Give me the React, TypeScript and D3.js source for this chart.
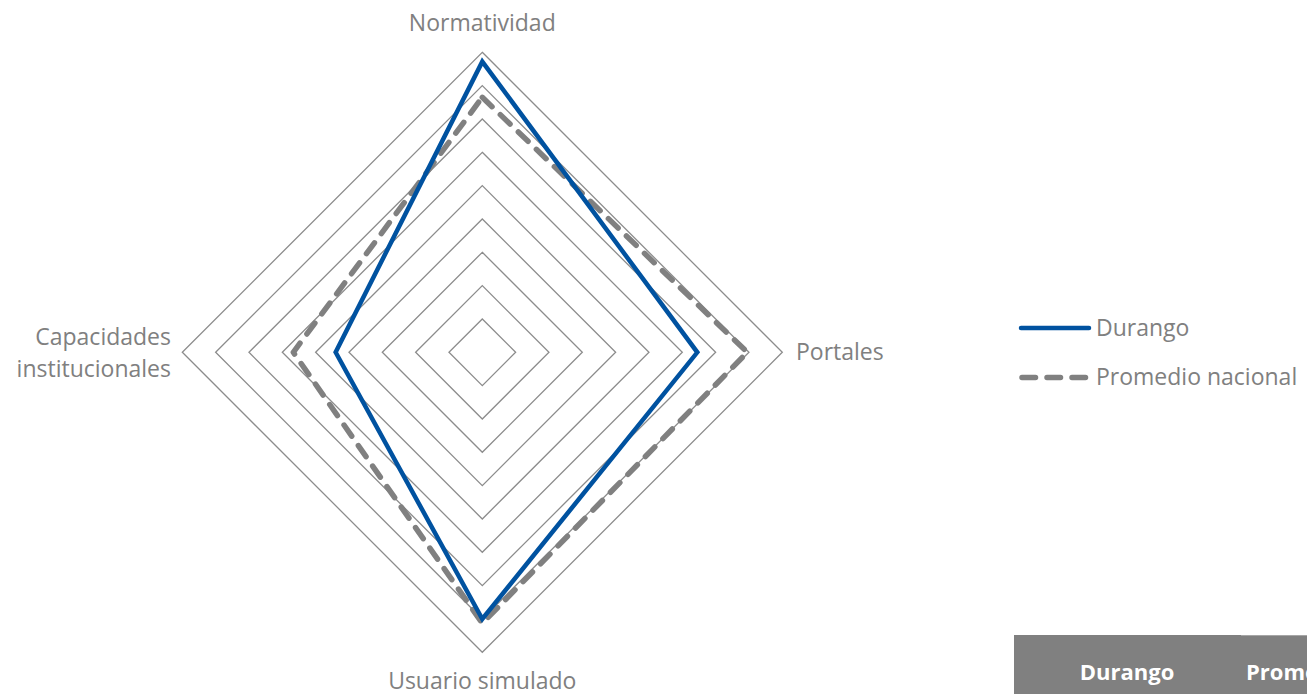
import React from 'react';
import * as d3 from 'd3';

const axes = ['Normatividad', 'Portales', 'Usuario simulado', 'Capacidades institucionales'];
const durango = [8.72, 6.45, 8.0, 4.4];
const promedio = [7.65, 7.95, 8.13, 5.67];
const rings = [1, 2, 3, 4, 5, 6, 7, 8, 9];
const seriesNames = ['Durango', 'Promedio nacional'];
const tableHeader = ['Durango', 'Promedio nacional'];

const FONT = "'Segoe UI', 'Open Sans', 'Noto Sans', sans-serif";

export default function App() {
  const width = 1307;
  const height = 694;
  const cx = 482.3;
  const cy = 352.3;
  const r = d3.scaleLinear().domain([0, 9]).range([0, 300]);
  const angle = (i: number) => (i * 2 * Math.PI) / axes.length;

  const pt = (v: number, i: number): [number, number] => [
    cx + r(v) * Math.sin(angle(i)),
    cy - r(v) * Math.cos(angle(i)),
  ];
  const poly = d3.line<[number, number]>().curve(d3.curveLinearClosed);

  const gray = '#808080';
  const dash = '13.5 11.5';

  return (
    <svg width={width} height={height} style={{ position: 'absolute', left: 0, top: 0 }}>
      <rect width={width} height={height} fill="#fff" />
      <g>
        {rings.map((k) => (
          <path
            key={k}
            d={poly(axes.map((_, i) => pt(k, i))) || ''}
            fill="none"
            stroke="#8c8c8c"
            strokeWidth={1.3}
          />
        ))}
      </g>
      <path
        d={poly(promedio.map((v, i) => pt(v, i))) || ''}
        fill="none"
        stroke={gray}
        strokeWidth={5.5}
        strokeDasharray={dash}
        strokeLinecap="round"
        strokeLinejoin="round"
      />
      <path
        d={poly(durango.map((v, i) => pt(v, i))) || ''}
        fill="none"
        stroke="#0052a0"
        strokeWidth={4.5}
        strokeLinejoin="miter"
      />
      <g fontFamily={FONT} fontSize={23} fill={gray}>
        <text x={cx} y={31} textAnchor="middle">{axes[0]}</text>
        <text x={796} y={360} textAnchor="start">{axes[1]}</text>
        <text x={cx} y={689} textAnchor="middle">{axes[2]}</text>
        <text x={171} y={345} textAnchor="end">Capacidades</text>
        <text x={171} y={377} textAnchor="end">institucionales</text>
      </g>
      <g fontFamily={FONT} fontSize={23} fill={gray}>
        <line x1={1021} x2={1089} y1={328} y2={328} stroke="#0052a0" strokeWidth={4.5} strokeLinecap="round" />
        <text x={1096} y={336}>{seriesNames[0]}</text>
        <line x1={1022} x2={1087} y1={377.5} y2={377.5} stroke={gray} strokeWidth={5.5} strokeDasharray={dash} strokeLinecap="round" />
        <text x={1096} y={385}>{seriesNames[1]}</text>
      </g>
      <rect x={1014} y={635} width={293} height={59} fill={gray} />
      <line x1={1241} x2={1307} y1={635.5} y2={635.5} stroke="#a6a6a6" strokeWidth={1} />
      <g fontFamily={FONT} fontSize={22} fontWeight="bold" fill="#fff">
        <text x={1127} y={680} textAnchor="middle">{tableHeader[0]}</text>
        <text x={1246} y={680}>{tableHeader[1]}</text>
      </g>
    </svg>
  );
}
